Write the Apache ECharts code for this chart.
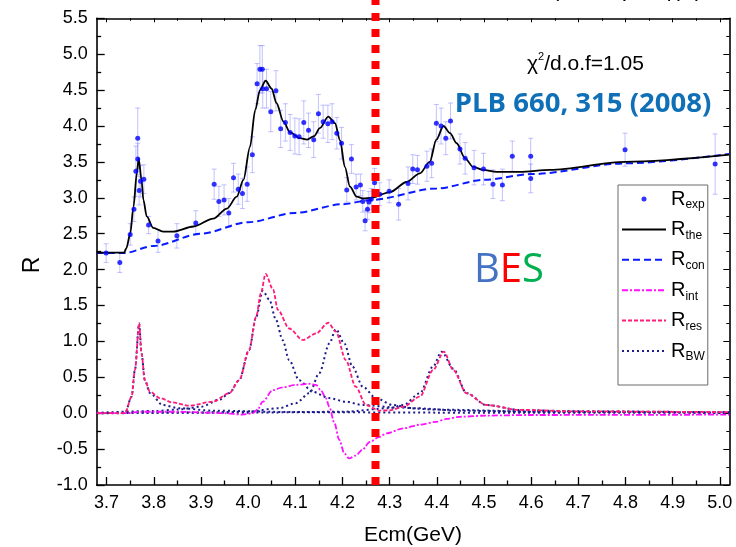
<!DOCTYPE html>
<html>
<head>
<meta charset="utf-8">
<script src="https://cdn.jsdelivr.net/npm/echarts@6/dist/echarts.min.js"></script>
<style>
  html, body { margin: 0; padding: 0; background: #fff; }
  #chart { width: 736px; height: 547px; }
</style>
</head>
<body>
<div id="chart"></div>
<script>
// ---- Axis ticks (GeV and R) ----
const xMajor = [3.7, 3.8, 3.9, 4.0, 4.1, 4.2, 4.3, 4.4, 4.5, 4.6, 4.7, 4.8, 4.9, 5.0];
const xMinor = [3.75, 3.85, 3.95, 4.05, 4.15, 4.25, 4.35, 4.45, 4.55, 4.65, 4.75, 4.85, 4.95];
const X_MIN = 3.679, X_MAX = 5.02;
const Y_MIN = -1.0, Y_MAX = 5.5, Y_STEP = 0.5;

// ---- Measured R with errors ----
const expE = [3.699, 3.728, 3.750, 3.758, 3.762, 3.766, 3.766, 3.769, 3.772, 3.779, 3.789, 3.809, 3.849, 3.889,
  3.928, 3.938, 3.949, 3.959, 3.969, 3.979, 3.988, 3.998, 4.009, 4.019, 4.025, 4.030, 4.031, 4.039, 4.048, 4.059,
  4.069, 4.079, 4.089, 4.099, 4.108, 4.118, 4.128, 4.139, 4.149, 4.159, 4.169, 4.178, 4.188, 4.198, 4.209, 4.219,
  4.229, 4.238, 4.243, 4.248, 4.253, 4.256, 4.261, 4.268, 4.279, 4.299, 4.319, 4.339, 4.349, 4.359, 4.379, 4.389,
  4.399, 4.409, 4.419, 4.429, 4.449, 4.460, 4.479, 4.499, 4.519, 4.539, 4.560, 4.599, 4.599, 4.799, 4.990];
const expR = [2.23, 2.10, 2.49, 2.84, 3.37, 3.83, 3.54, 3.10, 3.23, 3.26, 2.62, 2.40, 2.47, 2.65,
  3.19, 2.95, 2.97, 2.79, 3.28, 3.12, 3.06, 3.19, 3.60, 4.59, 4.79, 4.79, 4.52, 4.52, 4.20, 4.49,
  3.96, 4.05, 3.91, 3.86, 3.85, 4.05, 3.94, 3.81, 4.17, 4.06, 4.03, 4.06, 3.90, 3.76, 3.11, 3.54,
  3.15, 3.18, 2.95, 2.68, 2.84, 2.94, 2.98, 3.21, 3.05, 3.09, 2.91, 3.20, 3.40, 3.39, 3.44, 3.48,
  4.04, 4.00, 3.83, 4.07, 3.68, 3.55, 3.42, 3.40, 3.19, 3.18, 3.58, 3.58, 3.27, 3.67, 3.47];
const expErr = [0.13, 0.14, 0.15, 0.17, 0.35, 0.42, 0.22, 0.20, 0.22, 0.20, 0.12, 0.16, 0.17, 0.17,
  0.21, 0.21, 0.21, 0.20, 0.20, 0.21, 0.21, 0.24, 0.25, 0.28, 0.33, 0.33, 0.27, 0.27, 0.28, 0.28,
  0.26, 0.26, 0.25, 0.25, 0.25, 0.30, 0.24, 0.25, 0.27, 0.23, 0.26, 0.25, 0.22, 0.22, 0.17, 0.20,
  0.18, 0.15, 0.15, 0.14, 0.14, 0.15, 0.15, 0.20, 0.16, 0.16, 0.22, 0.23, 0.20, 0.20, 0.21, 0.20,
  0.26, 0.25, 0.23, 0.25, 0.21, 0.22, 0.24, 0.22, 0.20, 0.22, 0.21, 0.25, 0.20, 0.23, 0.42];

// ---- Fitted total R ----
const theE = [3.679, 3.737, 3.742, 3.750, 3.757, 3.764, 3.768, 3.774, 3.778, 3.785, 3.799, 3.820, 3.841, 3.884,
  3.926, 3.955, 3.976, 3.990, 4.004, 4.015, 4.025, 4.037, 4.050, 4.060, 4.075, 4.089, 4.110, 4.125, 4.140,
  4.152, 4.170, 4.184, 4.195, 4.205, 4.216, 4.230, 4.245, 4.260, 4.301, 4.336, 4.364, 4.385, 4.399, 4.414,
  4.428, 4.442, 4.460, 4.477, 4.498, 4.527, 4.576, 4.640, 4.800, 5.020];
const theR = [2.236, 2.236, 2.30, 2.50, 2.876, 3.34, 3.55, 3.25, 2.97, 2.74, 2.58, 2.53, 2.53, 2.60,
  2.71, 2.85, 3.015, 3.25, 3.71, 4.22, 4.50, 4.63, 4.52, 4.32, 4.06, 3.91, 3.83, 3.81, 3.86,
  3.97, 4.13, 4.04, 3.80, 3.43, 3.155, 3.015, 2.99, 3.00, 3.08, 3.22, 3.34, 3.50, 3.81, 4.00,
  3.90, 3.76, 3.55, 3.43, 3.39, 3.36, 3.36, 3.39, 3.50, 3.60];

// ---- Continuum ----
const conE = [3.679, 3.737, 3.800, 3.900, 4.000, 4.100, 4.200, 4.260, 4.400, 4.500, 4.600, 4.800, 5.020];
const conR = [2.23, 2.23, 2.33, 2.50, 2.66, 2.79, 2.91, 2.97, 3.13, 3.25, 3.33, 3.48, 3.61];

// ---- Interference term ----
const intE = [3.679, 3.745, 3.770, 3.850, 3.950, 3.988, 4.010, 4.020, 4.031, 4.052, 4.073, 4.101, 4.130, 4.144,
  4.154, 4.165, 4.172, 4.183, 4.193, 4.204, 4.214, 4.228, 4.242, 4.258, 4.278, 4.294, 4.329, 4.364, 4.399,
  4.420, 4.449, 4.505, 4.600, 5.020];
const intR = [0, 0, 0.02, 0.02, 0.0, -0.02, 0.0, 0.05, 0.16, 0.32, 0.36, 0.395, 0.41, 0.395,
  0.32, 0.21, 0.09, -0.14, -0.37, -0.56, -0.63, -0.59, -0.51, -0.40, -0.33, -0.28, -0.21, -0.16, -0.12,
  -0.08, -0.05, -0.033, -0.025, -0.02];

// ---- Resonant part ----
const resE = [3.679, 3.739, 3.753, 3.760, 3.769, 3.774, 3.781, 3.792, 3.813, 3.840, 3.875, 3.925, 3.960, 3.981,
  4.002, 4.017, 4.027, 4.037, 4.053, 4.063, 4.087, 4.116, 4.144, 4.170, 4.186, 4.207, 4.228, 4.250, 4.278,
  4.300, 4.329, 4.364, 4.392, 4.415, 4.435, 4.463, 4.505, 4.576, 4.700, 5.020];
const resR = [0, 0, 0.23, 0.60, 1.25, 0.83, 0.46, 0.30, 0.21, 0.15, 0.105, 0.16, 0.277, 0.46,
  0.88, 1.34, 1.67, 1.94, 1.72, 1.44, 1.18, 1.02, 1.11, 1.26, 1.135, 0.74, 0.37, 0.114, 0.035,
  0.04, 0.09, 0.23, 0.60, 0.857, 0.60, 0.277, 0.114, 0.045, 0.025, 0.015];

// ---- Individual Breit-Wigner shapes ----
const bw3770E = [3.679, 3.739, 3.753, 3.760, 3.769, 3.774, 3.781, 3.792, 3.819, 3.854, 3.925, 4.100, 4.400, 5.020];
const bw3770R = [0, 0, 0.23, 0.60, 1.25, 0.83, 0.46, 0.28, 0.114, 0.07, 0.035, 0.015, 0.008, 0.004];
const bw4040E = [3.679, 3.800, 3.850, 3.900, 3.940, 3.960, 3.981, 4.002, 4.017, 4.031, 4.045, 4.059, 4.073, 4.087,
  4.108, 4.136, 4.172, 4.207, 4.243, 4.313, 4.400, 4.600, 5.020];
const bw4040R = [0.005, 0.03, 0.05, 0.09, 0.19, 0.28, 0.46, 0.88, 1.34, 1.706, 1.58, 1.30, 1.02, 0.74,
  0.46, 0.30, 0.21, 0.16, 0.114, 0.08, 0.05, 0.025, 0.01];
const bw4160E = [3.679, 3.900, 3.996, 4.066, 4.101, 4.130, 4.151, 4.172, 4.186, 4.204, 4.221, 4.243, 4.271, 4.306,
  4.350, 4.450, 4.600, 5.020];
const bw4160R = [0.003, 0.01, 0.02, 0.07, 0.14, 0.28, 0.56, 0.97, 1.17, 0.97, 0.65, 0.37, 0.21, 0.114,
  0.07, 0.035, 0.02, 0.008];
const bw4415E = [3.679, 4.000, 4.200, 4.300, 4.329, 4.364, 4.392, 4.410, 4.435, 4.463, 4.505, 4.576, 4.700, 5.020];
const bw4415R = [0.003, 0.008, 0.02, 0.07, 0.114, 0.277, 0.65, 0.857, 0.62, 0.28, 0.114, 0.045, 0.025, 0.012];

// ---- Energy marker ----
const markerE = 4.27;

const zip = (a, b) => a.map((v, i) => [v, b[i]]);
const FONT = '"Liberation Sans", Arial, sans-serif';
const CAL = '"Open Sans", sans-serif';

const chart = echarts.init(document.getElementById('chart'), null, { renderer: 'canvas' });

const lineSeries = (name, xs, ys, color, width, dash) => ({
  name, type: 'line', data: zip(xs, ys), symbol: 'none', showSymbol: false,
  smooth: 0.3, smoothMonotone: 'x',
  lineStyle: { color, width, type: dash }, itemStyle: { color },
  z: 3, silent: true
});

const errColor = 'rgba(120,120,255,0.45)';
const noDot = { opacity: 0 };

const option = {
  animation: false,
  backgroundColor: '#fff',
  grid: { left: 96.7, right: 6.7, top: 18.3, bottom: 62, containLabel: false, outerBoundsMode: 'none' },
  xAxis: [
    {
      type: 'value', min: X_MIN, max: X_MAX, position: 'bottom',
      name: 'Ecm(GeV)', nameLocation: 'middle', nameGap: 40,
      nameTextStyle: { fontFamily: FONT, fontSize: 21, color: '#000' },
      axisLine: { show: true, onZero: false, lineStyle: { color: '#000', width: 1.6 } },
      axisTick: { show: true, inside: true, length: 8, customValues: xMajor, lineStyle: { color: '#000', width: 1.3 } },
      axisLabel: { show: true, customValues: xMajor, margin: 9, fontFamily: FONT, fontSize: 18, color: '#000',
        formatter: v => Number(v).toFixed(1) },
      splitLine: { show: false }
    },
    {
      type: 'value', min: X_MIN, max: X_MAX, position: 'bottom',
      axisLine: { show: false, onZero: false },
      axisTick: { show: true, inside: true, length: 4.5, customValues: xMinor, lineStyle: { color: '#000', width: 1.3 } },
      axisLabel: { show: false }, splitLine: { show: false }
    },
    {
      type: 'value', min: X_MIN, max: X_MAX, position: 'top',
      axisLine: { show: true, onZero: false, lineStyle: { color: '#000', width: 1.6 } },
      axisTick: { show: true, inside: true, length: 4, customValues: xMajor, lineStyle: { color: '#000', width: 1 } },
      axisLabel: { show: false }, splitLine: { show: false }
    },
    {
      type: 'value', min: X_MIN, max: X_MAX, position: 'top',
      axisLine: { show: false, onZero: false },
      axisTick: { show: true, inside: true, length: 2.5, customValues: xMinor, lineStyle: { color: '#000', width: 1 } },
      axisLabel: { show: false }, splitLine: { show: false }
    }
  ],
  yAxis: [
    {
      type: 'value', min: Y_MIN, max: Y_MAX, interval: Y_STEP, position: 'left',
      axisLine: { show: true, onZero: false, lineStyle: { color: '#000', width: 1.6 } },
      axisTick: { show: true, inside: true, length: 8, lineStyle: { color: '#000', width: 1.3 } },
      minorTick: { show: true, splitNumber: 2, length: 4.5, lineStyle: { color: '#000', width: 1.3 } },
      axisLabel: { margin: 9, fontFamily: FONT, fontSize: 18, color: '#000', formatter: v => Number(v).toFixed(1) },
      splitLine: { show: false }, minorSplitLine: { show: false }
    },
    {
      type: 'value', min: Y_MIN, max: Y_MAX, interval: Y_STEP, position: 'right',
      axisLine: { show: true, onZero: false, lineStyle: { color: '#000', width: 1.6 } },
      axisTick: { show: true, inside: true, length: 6, lineStyle: { color: '#000', width: 1 } },
      minorTick: { show: true, splitNumber: 2, length: 3, lineStyle: { color: '#000', width: 1 } },
      axisLabel: { show: false }, splitLine: { show: false }, minorSplitLine: { show: false }
    }
  ],
  legend: {
    orient: 'vertical', left: 618, top: 185,
    padding: [4, 3, 22, 3], itemGap: 8.4, itemWidth: 44, itemHeight: 5,
    borderColor: '#6a6a6a', borderWidth: 1, backgroundColor: '#fff',
    selectedMode: false,
    data: [
      { name: 'R_exp', icon: 'circle' },
      { name: 'R_the', itemStyle: noDot }, { name: 'R_con', itemStyle: noDot },
      { name: 'R_int', itemStyle: noDot }, { name: 'R_res', itemStyle: noDot },
      { name: 'R_BW', itemStyle: noDot }
    ],
    formatter: n => '{r|R}{s|' + n.slice(2) + '}',
    textStyle: {
      rich: {
        r: { fontFamily: FONT, fontSize: 20, lineHeight: 24, color: '#000' },
        s: { fontFamily: FONT, fontSize: 12, lineHeight: 2, verticalAlign: 'bottom', color: '#000' }
      }
    }
  },
  series: [
    {
      name: 'errors', type: 'custom', silent: true, z: 2,
      data: expE.map((e, i) => [e, expR[i], expErr[i]]),
      renderItem: (params, api) => {
        const x = api.value(0), y = api.value(1), err = api.value(2);
        const top = api.coord([x, y + err]);
        const bot = api.coord([x, y - err]);
        const w = 2.5;
        const st = { stroke: errColor, lineWidth: 1 };
        return {
          type: 'group', children: [
            { type: 'line', shape: { x1: top[0], y1: top[1], x2: bot[0], y2: bot[1] }, style: st },
            { type: 'line', shape: { x1: top[0] - w, y1: top[1], x2: top[0] + w, y2: top[1] }, style: st },
            { type: 'line', shape: { x1: bot[0] - w, y1: bot[1], x2: bot[0] + w, y2: bot[1] }, style: st }
          ]
        };
      }
    },
    lineSeries('R_con', conE, conR, '#0a1aff', 2, [7, 4]),
    lineSeries('R_BW', bw3770E, bw3770R, '#1c1c8c', 2, [2, 3]),
    lineSeries('R_BW', bw4040E, bw4040R, '#1c1c8c', 2, [2, 3]),
    lineSeries('R_BW', bw4160E, bw4160R, '#1c1c8c', 2, [2, 3]),
    lineSeries('R_BW', bw4415E, bw4415R, '#1c1c8c', 2, [2, 3]),
    lineSeries('R_int', intE, intR, '#ff10ff', 1.8, [6, 2, 2, 2]),
    lineSeries('R_res', resE, resR, '#ff1c78', 1.8, [4, 2]),
    lineSeries('R_the', theE, theR, '#000000', 1.8, 'solid'),
    {
      name: 'R_exp', type: 'scatter', data: zip(expE, expR), symbol: 'circle', symbolSize: 5,
      itemStyle: { color: '#0000ff' }, z: 5, silent: true
    },
    {
      name: 'marker', type: 'line', data: [[markerE, Y_MIN], [markerE, 5.76]], clip: false,
      symbol: 'none', lineStyle: { color: '#ff0000', width: 8, type: [8, 8] }, z: 10, silent: true
    }
  ],
  graphic: [
    {
      type: 'text', x: 33, y: 265, rotation: Math.PI / 2,
      style: { text: 'R', fontFamily: FONT, fontSize: 23, fill: '#000', align: 'center', verticalAlign: 'middle' }
    },
    {
      type: 'text', x: 527, y: 63,
      style: {
        text: '{a|χ}{p|2}{a|/d.o.f=1.05}', verticalAlign: 'middle',
        rich: {
          a: { fontFamily: FONT, fontSize: 21, lineHeight: 23, verticalAlign: 'bottom', fill: '#000' },
          p: { fontFamily: FONT, fontSize: 11, lineHeight: 12, verticalAlign: 'top', fill: '#000' }
        }
      }
    },
    {
      type: 'text', x: 583, y: 104,
      style: { text: 'PLB 660, 315 (2008)', fontFamily: CAL, fontWeight: 'bold',
        fontSize: 27.5, fill: '#0f70b7', align: 'center', verticalAlign: 'middle' }
    },
    {
      type: 'text', x: 474, y: 271,
      style: {
        text: '{b|B}{e|E}{s|S}', verticalAlign: 'middle',
        rich: {
          b: { fontFamily: CAL, fontSize: 40, fill: '#4472c4' },
          e: { fontFamily: CAL, fontSize: 40, fill: '#ff0000' },
          s: { fontFamily: CAL, fontSize: 40, fill: '#00b050' }
        }
      }
    },
    {
      type: 'text', x: 552, y: -21,
      style: { text: '(e⁺e⁻→γ*→ψ) (', fontFamily: FONT, fontSize: 22, fill: '#000', verticalAlign: 'top' }
    }
  ]
};

chart.setOption(option);
</script>
</body>
</html>
